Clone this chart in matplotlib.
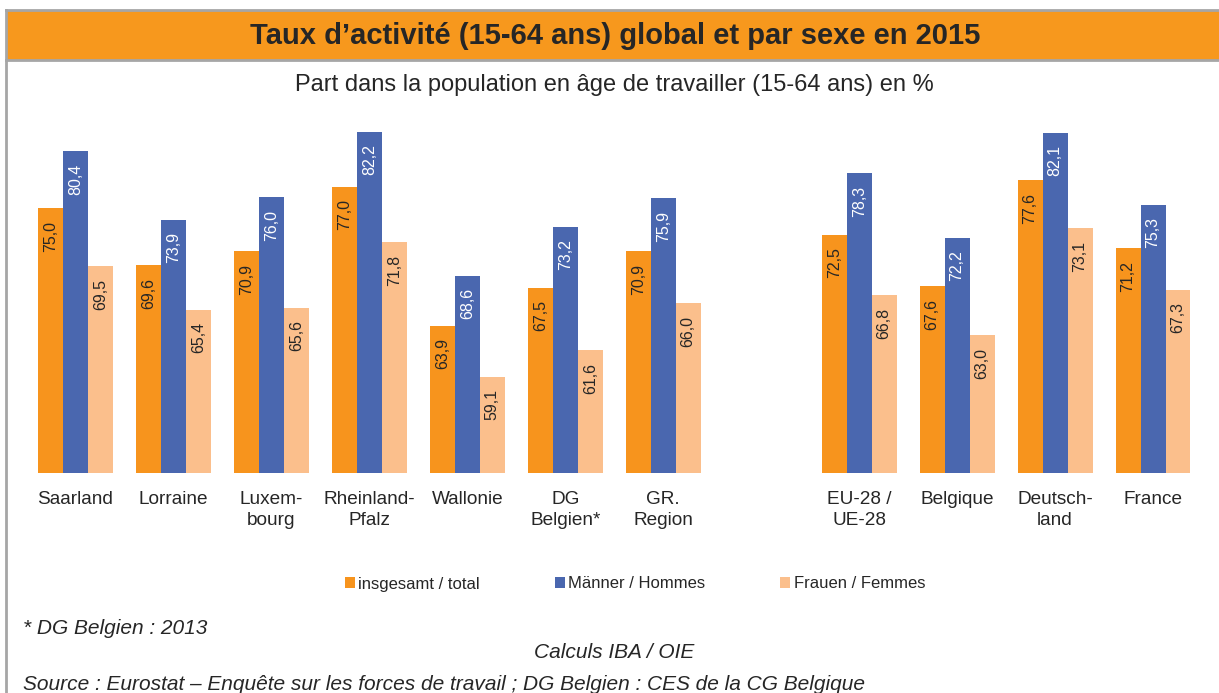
"""Taux d'activité 2015 - barres groupées"""

import numpy as np
import matplotlib.pyplot as plt
from matplotlib.patches import Rectangle, Patch
from matplotlib.lines import Line2D

plt.rcParams["font.family"] = ["Liberation Sans", "DejaVu Sans"]

# données
regions = ["Saarland", "Lorraine", "Luxem-\nbourg", "Rheinland-\nPfalz", "Wallonie",
           "DG\nBelgien*", "GR.\nRegion", "", "EU-28 /\nUE-28", "Belgique",
           "Deutsch-\nland", "France"]
total = [75.0, 69.6, 70.9, 77.0, 63.9, 67.5, 70.9, np.nan, 72.5, 67.6, 77.6, 71.2]
hommes = [80.4, 73.9, 76.0, 82.2, 68.6, 73.2, 75.9, np.nan, 78.3, 72.2, 82.1, 75.3]
femmes = [69.5, 65.4, 65.6, 71.8, 59.1, 61.6, 66.0, np.nan, 66.8, 63.0, 73.1, 67.3]
series_names = ["insgesamt / total", "Männer / Hommes", "Frauen / Femmes"]

colors = ["#F7941D", "#4A67AF", "#FBBF8C"]
label_colors = ["#262626", "white", "#262626"]
dark = "#262626"

W, H = 1219, 693
fig = plt.figure(figsize=(W / 100, H / 100), dpi=100, facecolor="white")

# cadre + bandeau titre
def fx(px):
    return px / W

def fy(py):
    return 1 - py / H

fig.add_artist(Rectangle((fx(7), fy(60)), 1.0, fy(11) - fy(60), transform=fig.transFigure,
                         facecolor="#F7981D", edgecolor="none"))
for xs, ys in [([fx(6), fx(6)], [fy(10), -0.1]), ([fx(6), 1.1], [fy(10), fy(10)]),
               ([fx(6), 1.1], [fy(60), fy(60)])]:
    fig.add_artist(Line2D(xs, ys, transform=fig.transFigure, color="#A6A6A6", lw=2))

fig.text(fx(615), fy(36), "Taux d’activité (15-64 ans) global et par sexe en 2015",
         ha="center", va="center", fontsize=21, fontweight="bold", color=dark)
fig.text(fx(614), fy(85), "Part dans la population en âge de travailler (15-64 ans) en %",
         ha="center", va="center", fontsize=17, color=dark)

ax = fig.add_axes([fx(26.5), fy(473), fx(1202) - fx(26.5), fy(102) - fy(473)])
ax.set_xlim(-0.5, len(regions) - 0.5)
ax.set_ylim(50, 85)

x = np.arange(len(regions))
w = 0.255
for i, (vals, c, lc) in enumerate(zip([total, hommes, femmes], colors, label_colors)):
    xpos = x + (i - 1) * w
    ax.bar(xpos, np.array(vals) - 50, width=w, bottom=50, color=c, edgecolor="none",
           label=series_names[i])
    for xi, v in zip(xpos, vals):
        if np.isnan(v):
            continue
        ax.annotate(f"{v:.1f}".replace(".", ","), xy=(xi, v), xytext=(0, -9),
                    textcoords="offset points", rotation=90, ha="center", va="top",
                    fontsize=11.5, color=lc)

ax.set_xticks(x)
ax.set_xticklabels(regions, fontsize=13.7, color=dark, linespacing=1.3)
ax.tick_params(axis="x", length=0, pad=13)
ax.set_yticks([])
for s in ax.spines.values():
    s.set_visible(False)

# légende
handles = [Patch(facecolor=c, edgecolor="none") for c in colors]
fig.legend(handles, series_names, loc="center", bbox_to_anchor=(fx(635), fy(584)),
           ncol=3, frameon=False, fontsize=12, handlelength=0.6, handleheight=0.6,
           handletextpad=0.2, columnspacing=4.5, labelcolor=dark)

# notes
fig.text(fx(23), fy(628), "* DG Belgien : 2013", ha="left", va="center",
         fontsize=15, style="italic", color=dark)
fig.text(fx(614), fy(653), "Calculs IBA / OIE", ha="center", va="center",
         fontsize=15, style="italic", color=dark)
fig.text(fx(23), fy(685), "Source : Eurostat – Enquête sur les forces de travail ; "
         "DG Belgien : CES de la CG Belgique", ha="left", va="center",
         fontsize=15, style="italic", color=dark)

fig.savefig("out.png", dpi=100)
